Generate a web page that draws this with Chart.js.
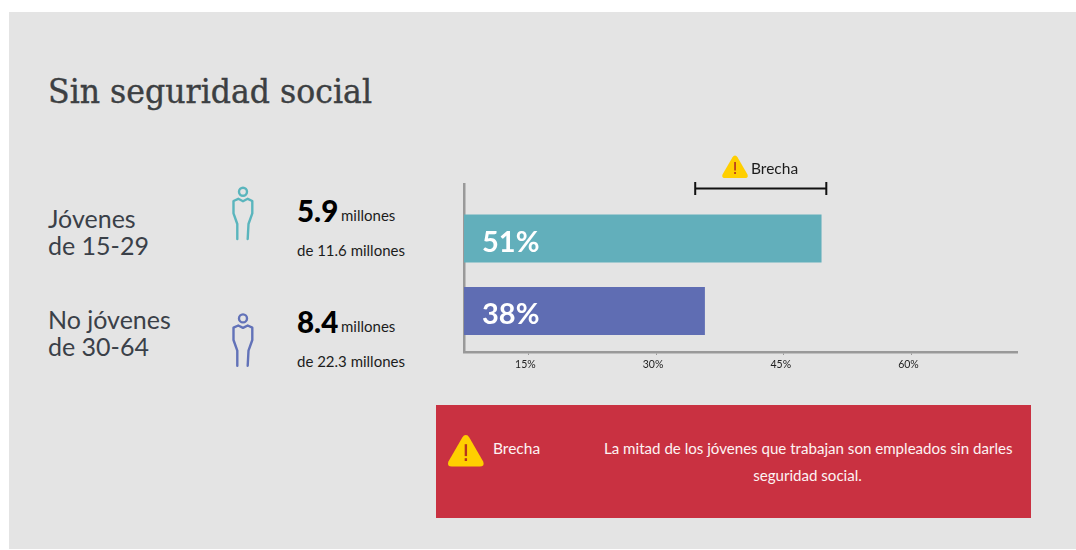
<!DOCTYPE html>
<html lang="es">
<head>
<meta charset="utf-8">
<title>Sin seguridad social</title>
<script src="https://cdn.jsdelivr.net/npm/chart.js@4"></script>
<style>
  html, body { margin: 0; padding: 0; background: #fff; }
  #page { position: relative; width: 1076px; height: 550px; overflow: hidden; font-family: Lato, sans-serif; }
  #panel { position: absolute; left: 9px; top: 12px; width: 1067px; height: 537px; background: #e4e4e4; }
  #chartBox { position: absolute; left: 440px; top: 140px; width: 600px; height: 240px; }
  .t { position: absolute; white-space: nowrap; line-height: 1; }
  .group { font-size: 25px; color: #3a4048; line-height: 27px; }
  .big { font-size: 29.5px; font-weight: 900; color: #000; }
  .small { font-size: 15px; color: #1c1c1c; }
  #title { left: 48px; top: 75px; font-family: "DejaVu Serif", serif; font-size: 33px; color: #3c3f42; -webkit-text-stroke: 0.4px #3c3f42; transform: scaleX(0.957); transform-origin: left center; }
  #redBox { position: absolute; left: 436px; top: 405px; width: 595px; height: 113px; background: #c93141; }
  .white { color: #fdf3f3; font-size: 15.1px; }
  svg { position: absolute; overflow: visible; }
</style>
</head>
<body>
<div id="page">
  <div id="panel"></div>
  <div class="t" id="title">Sin seguridad social</div>

  <div class="t group" style="left:48px;top:205px">Jóvenes<br>de 15-29</div>
  <div class="t group" style="left:48px;top:306px">No jóvenes<br>de 30-64</div>

  <svg style="left:0;top:0" width="1076" height="550">
    <defs>
      <g id="person" fill="none" stroke-width="2.4" stroke-linecap="round" stroke-linejoin="round">
        <circle cx="243" cy="191.7" r="4"/>
        <path d="M237.3 239 L237.3 224 L233.5 213.3 L233.5 201 L238.3 198.8 L243 201.2 L247.7 198.8 L252.3 201 L252.3 213.3 L248.5 224 L247.7 239"/>
      </g>
      <g id="warn">
        <path d="M12 1.5 Q13.5 1.5 14.5 3.2 L24.5 20.5 Q25.5 24 22 24 L2 24 Q-1.5 24 -0.5 20.5 L9.5 3.2 Q10.5 1.5 12 1.5 Z" fill="#ffcf00"/>
        <rect x="11.2" y="8" width="1.7" height="8.5" fill="#b5361e"/>
        <rect x="11.2" y="18" width="1.7" height="2" fill="#b5361e"/>
      </g>
    </defs>
    <use href="#person" stroke="#5ab5bd"/>
    <use href="#person" stroke="#6272b8" y="126.7"/>
  </svg>

  <div class="t big" style="left:297px;top:196px">5.9</div>
  <div class="t small" style="left:341px;top:208px">millones</div>
  <div class="t small" style="left:297px;top:243px">de 11.6 millones</div>
  <div class="t big" style="left:297px;top:307px">8.4</div>
  <div class="t small" style="left:341px;top:319px">millones</div>
  <div class="t small" style="left:297px;top:354px">de 22.3 millones</div>

  <div id="chartBox"><canvas id="chart"></canvas></div>

  <svg style="left:723px;top:154px" width="25" height="25"><use href="#warn"/></svg>
  <div class="t" style="left:751px;top:161px;font-size:15.5px;color:#1c1c1c">Brecha</div>

  <div id="redBox"></div>
  <svg style="left:449px;top:433px" width="35" height="35" viewBox="0 0 25 25"><use href="#warn"/></svg>
  <div class="t white" style="left:493px;top:441px;font-size:15.5px">Brecha</div>
  <div class="t white" style="left:604px;top:441px;width:407px;text-align:center;line-height:27px;margin-top:-6px">La mitad de los jóvenes que trabajan son empleados sin darles<br>seguridad social.</div>
</div>

<script>
const CATEGORIES = ['Jóvenes de 15-29', 'No jóvenes de 30-64'];
const ROWS = [1, 2];
// bar lengths as drawn in the picture, the printed labels say 51% and 38%
const BAR_VALUES = [49.4, 35.7];
const BAR_LABELS = ['51%', '38%'];
const BAR_COLORS = ['#62afbb', '#5f6db3'];
const TICK_VALUES = [15, 30, 45, 60];
const GAP_RANGE = [34.6, 50];

const barTextPlugin = {
  id: 'barText',
  afterDatasetsDraw(chart) {
    const { ctx } = chart;
    const meta = chart.getDatasetMeta(0);
    ctx.save();
    ctx.fillStyle = '#fff';
    ctx.font = '700 29px Lato';
    ctx.textBaseline = 'middle';
    meta.data.forEach((bar, i) => {
      ctx.fillText(BAR_LABELS[i], chart.chartArea.left + 18, bar.y + 4);
    });
    ctx.restore();
  }
};

const gapBracketPlugin = {
  id: 'gapBracket',
  afterDraw(chart) {
    const { ctx, scales } = chart;
    const x0 = scales.x.getPixelForValue(GAP_RANGE[0]);
    const x1 = scales.x.getPixelForValue(GAP_RANGE[1]);
    const y = 188.5 - 140;
    ctx.save();
    ctx.strokeStyle = '#111';
    ctx.lineWidth = 2;
    ctx.beginPath();
    ctx.moveTo(x0, y); ctx.lineTo(x1, y);
    ctx.moveTo(x0, y - 6.5); ctx.lineTo(x0, y + 6.5);
    ctx.moveTo(x1, y - 6.5); ctx.lineTo(x1, y + 6.5);
    ctx.stroke();
    ctx.restore();
  }
};

new Chart(document.getElementById('chart'), {
  type: 'bar',
  data: {
    datasets: [{
      label: 'Sin seguridad social',
      data: ROWS.map((row, i) => ({ x: BAR_VALUES[i], y: row, name: CATEGORIES[i] })),
      backgroundColor: BAR_COLORS,
      barThickness: 47.5
    }]
  },
  options: {
    indexAxis: 'y',
    responsive: true,
    maintainAspectRatio: false,
    animation: false,
    layout: { padding: { left: 24, right: 23, top: 44, bottom: 0 } },
    plugins: { legend: { display: false }, tooltip: { enabled: false } },
    scales: {
      x: {
        type: 'linear',
        min: 7.44,
        max: 72.4,
        afterBuildTicks: (axis) => { axis.ticks = TICK_VALUES.map(v => ({ value: v })); },
        afterFit: (axis) => { axis.height = 28; },
        grid: { drawOnChartArea: false, tickLength: 3, color: '#999' },
        border: { color: '#999', width: 2.5 },
        ticks: {
          callback: (v) => v + '%',
          maxRotation: 0,
          autoSkip: false,
          labelOffset: -3,
          padding: 3,
          color: '#222',
          font: { family: 'Lato', size: 10.5 }
        }
      },
      y: {
        type: 'linear',
        reverse: true,
        offset: false,
        min: 0.248,
        max: 2.566,
        afterFit: (axis) => { axis.width = 0; },
        grid: { display: false },
        border: { color: '#999', width: 2.5 },
        ticks: { display: false }
      }
    }
  },
  plugins: [barTextPlugin, gapBracketPlugin]
});
</script>
</body>
</html>
